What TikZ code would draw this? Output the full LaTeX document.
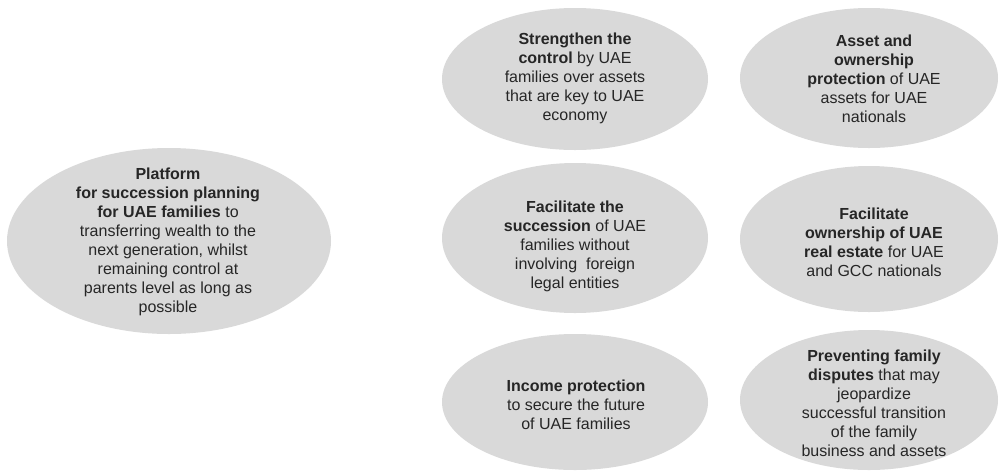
\documentclass[tikz,border=0pt]{standalone}
\usepackage{fontspec}
\setmainfont{Liberation Sans}
\usepackage{tikz}
\definecolor{bubblegray}{HTML}{D9D9D9}
\definecolor{textgray}{HTML}{262626}

\begin{document}
\begin{tikzpicture}[x=0.75pt, y=-0.75pt,
    bubble/.style = {fill=bubblegray},
    bubbletext/.style = {align=center, text=textgray, inner sep=0pt,
      font=\fontsize{12pt}{14.25pt}\selectfont}]

      \useasboundingbox (0,0) rectangle (1000,472);

      \fill[bubble] (169,241) ellipse (162 and 93);
      \node[bubbletext] (platform) at (168,242) {\textbf{Platform}\\ \textbf{for succession planning}\\ \textbf{for UAE families} to\\ transferring wealth to the\\ next generation, whilst\\ remaining control at\\ parents level as long as\\ possible};

      \fill[bubble] (575,79) ellipse (133 and 71);
      \node[bubbletext] (control) at (575,78) {\textbf{Strengthen the}\\ \textbf{control} by UAE\\ families over assets\\ that are key to UAE\\ economy};

      \fill[bubble] (869,78) ellipse (129 and 70);
      \node[bubbletext] (ownership) at (874,79) {\textbf{Asset and}\\ \textbf{ownership}\\ \textbf{protection} of UAE\\ assets for UAE\\ nationals};

      \fill[bubble] (575,238) ellipse (133 and 75);
      \node[bubbletext] (succession) at (575,246) {\textbf{Facilitate the}\\ \textbf{succession} of UAE\\ families without\\ involving\ \ foreign\\ legal entities};

      \fill[bubble] (869,239) ellipse (129 and 73);
      \node[bubbletext] (realestate) at (874,242) {\textbf{Facilitate}\\ \textbf{ownership of UAE}\\ \textbf{real estate} for UAE\\ and GCC nationals};

      \fill[bubble] (575,402) ellipse (133 and 68);
      \node[bubbletext] (income) at (576,405) {\textbf{Income protection}\\ to secure the future\\ of UAE families};

      \fill[bubble] (869,400) ellipse (129 and 70);
      \node[bubbletext] (disputes) at (874,403) {\textbf{Preventing family}\\ \textbf{disputes} that may\\ jeopardize\\ successful transition\\ of the family\\ business and assets};

\end{tikzpicture}
\end{document}
